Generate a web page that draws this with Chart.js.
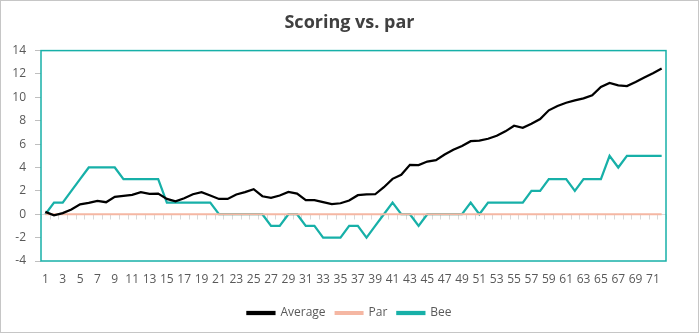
<!DOCTYPE html>
<html>
<head>
<meta charset="utf-8">
<script src="https://cdn.jsdelivr.net/npm/chart.js@4"></script>
<style>
  html, body { margin: 0; padding: 0; background: #fff; }
  #wrap { width: 699px; height: 333px; }
</style>
</head>
<body>
<div id="wrap"><canvas id="myChart" width="699" height="333"></canvas></div>
<script>
const holes = ["1","2","3","4","5","6","7","8","9","10","11","12","13","14","15","16","17","18",
  "19","20","21","22","23","24","25","26","27","28","29","30","31","32","33","34","35","36",
  "37","38","39","40","41","42","43","44","45","46","47","48","49","50","51","52","53","54",
  "55","56","57","58","59","60","61","62","63","64","65","66","67","68","69","70","71","72"];

const average = [0.2, -0.1, 0.1, 0.4, 0.85, 0.97, 1.14, 1.03, 1.49, 1.57, 1.66, 1.89,
  1.74, 1.77, 1.31, 1.11, 1.37, 1.71, 1.89, 1.6, 1.31, 1.31, 1.69, 1.89,
  2.14, 1.54, 1.4, 1.6, 1.91, 1.77, 1.2, 1.2, 1.03, 0.86, 0.94, 1.17,
  1.63, 1.69, 1.71, 2.31, 3.03, 3.37, 4.23, 4.2, 4.51, 4.63, 5.11, 5.51,
  5.83, 6.25, 6.29, 6.46, 6.71, 7.09, 7.57, 7.4, 7.74, 8.14, 8.89, 9.26,
  9.54, 9.74, 9.91, 10.17, 10.89, 11.23, 11.03, 10.97, 11.31, 11.69, 12.06, 12.46];

const par = [0, 0, 0, 0, 0, 0, 0, 0, 0, 0, 0, 0, 0, 0, 0, 0, 0, 0,
  0, 0, 0, 0, 0, 0, 0, 0, 0, 0, 0, 0, 0, 0, 0, 0, 0, 0,
  0, 0, 0, 0, 0, 0, 0, 0, 0, 0, 0, 0, 0, 0, 0, 0, 0, 0,
  0, 0, 0, 0, 0, 0, 0, 0, 0, 0, 0, 0, 0, 0, 0, 0, 0, 0];

const bee = [0, 1, 1, 2, 3, 4, 4, 4, 4, 3, 3, 3, 3, 3, 1, 1, 1, 1,
  1, 1, 0, 0, 0, 0, 0, 0, -1, -1, 0, 0, -1, -1, -2, -2, -2, -1,
  -1, -2, -1, 0, 1, 0, 0, -1, 0, 0, 0, 0, 0, 1, 0, 1, 1, 1,
  1, 1, 2, 2, 3, 3, 3, 2, 3, 3, 3, 5, 4, 5, 5, 5, 5, 5];

const yTicks = [-4, -2, 0, 2, 4, 6, 8, 10, 12, 14];

const TEAL = "#17b0a8";
const SALMON = "#f5b7a3";
const TEXT = "#595959";
const FONT = "'Open Sans', sans-serif";

// white background, outer grey border, teal plot border, little ticks on the zero line
const frame = {
  id: "frame",
  beforeDraw(chart) {
    const c = chart.ctx;
    c.save();
    c.fillStyle = "#fff";
    c.fillRect(0, 0, chart.width, chart.height);
    c.restore();
  },
  beforeDatasetsDraw(chart) {
    const c = chart.ctx;
    const x = chart.scales.x, y = chart.scales.y;
    const y0 = Math.round(y.getPixelForValue(0)) + 0.5;
    const n = holes.length;
    const w = (x.right - x.left) / n;
    c.save();
    c.strokeStyle = "#d9d9d9";
    c.lineWidth = 1;
    c.beginPath();
    c.moveTo(x.left, y0);
    c.lineTo(x.right, y0);
    for (let k = 0; k <= n; k++) {
      const px = Math.round(x.left + k * w) + 0.5;
      c.moveTo(px, y0);
      c.lineTo(px, y0 + 5);
    }
    c.stroke();
    c.restore();
  },
  afterDraw(chart) {
    const c = chart.ctx;
    const a = chart.chartArea;
    c.save();
    c.strokeStyle = TEAL;
    c.lineWidth = 1.5;
    c.strokeRect(a.left, a.top, a.right - a.left, a.bottom - a.top);
    c.strokeStyle = "#c6c6c6";
    c.lineWidth = 1;
    c.strokeRect(0.5, 0.5, chart.width - 1, chart.height - 1);
    c.restore();
  }
};

new Chart(document.getElementById("myChart"), {
  type: "line",
  data: {
    labels: holes,
    datasets: [
      {label: "Average", data: average, borderColor: "#000", backgroundColor: "#000",
       borderWidth: 2.25, pointRadius: 0, tension: 0},
      {label: "Par", data: par, borderColor: SALMON, backgroundColor: SALMON,
       borderWidth: 2, pointRadius: 0, tension: 0},
      {label: "Bee", data: bee, borderColor: TEAL, backgroundColor: TEAL,
       borderWidth: 2.25, pointRadius: 0, tension: 0},
    ],
  },
  options: {
    responsive: false,
    animation: false,
    layout: {padding: {left: 0, right: 0, top: 0, bottom: 4}},
    plugins: {
      title: {
        display: true,
        text: "Scoring vs. par",
        color: "#404040",
        font: {family: FONT, size: 18, weight: "bold"},
        padding: {top: 12, bottom: 17},
      },
      legend: {
        position: "bottom",
        labels: {
          color: TEXT,
          font: {family: FONT, size: 12},
          boxWidth: 27,
          boxHeight: 2,
          padding: 10,
        },
      },
      tooltip: {enabled: false},
    },
    scales: {
      x: {
        offset: true,
        grid: {display: false, drawTicks: false},
        border: {display: false},
        ticks: {
          color: TEXT,
          font: {family: FONT, size: 12},
          autoSkip: false,
          maxRotation: 0,
          padding: 11,
          callback: (v, i) => (i % 2 === 0 ? holes[i] : ""),
        },
        afterFit: (s) => { s.height = 333 - 4 - 32 - 261; },
      },
      y: {
        min: yTicks[0],
        max: yTicks[yTicks.length - 1],
        afterBuildTicks: (s) => { s.ticks = yTicks.map((v) => ({value: v})); },
        grid: {drawOnChartArea: false, tickLength: 6, color: "#bfbfbf"},
        border: {display: false},
        ticks: {color: TEXT, font: {family: FONT, size: 12}, padding: 9},
        afterFit: (s) => { s.width = 41; },
      },
      // empty right-hand strip so the plot ends where the reference does
      spacer: {
        position: "right",
        grid: {display: false, drawTicks: false},
        border: {display: false},
        ticks: {display: false},
        afterFit: (s) => { s.width = 33; },
      },
    },
  },
  plugins: [frame],
});
</script>
</body>
</html>
